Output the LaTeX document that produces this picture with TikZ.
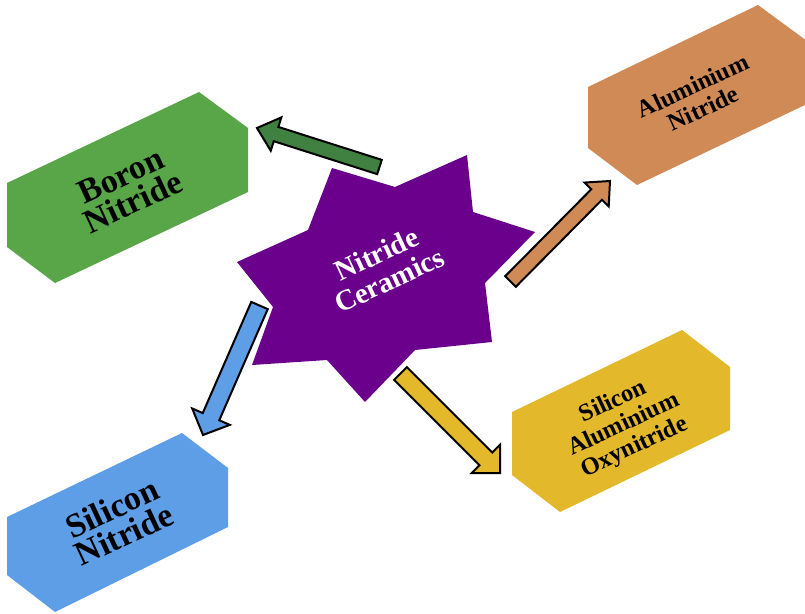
\documentclass[tikz,border=0pt]{standalone}
\usepackage{fontspec}
\setmainfont{Liberation Serif}
\usetikzlibrary{calc}
\definecolor{bngreen}{RGB}{88,166,72}
\definecolor{bnarrow}{RGB}{64,128,64}
\definecolor{alorange}{RGB}{208,138,86}
\definecolor{siyellow}{RGB}{227,184,42}
\definecolor{siblue}{RGB}{94,158,230}
\definecolor{starpurple}{RGB}{106,0,140}
% tail, tip, colour, shaft half width, head half width, head length
\newcommand{\blkarrow}[6]{%
  \coordinate (bB) at ($(#2)!#6pt!(#1)$);
  \filldraw[blockarrow, fill=#3]
    ($(#1)!#4pt!90:(#2)$) -- ($(bB)!#4pt!-90:(#1)$) -- ($(bB)!#5pt!-90:(#1)$) -- (#2)
    -- ($(bB)!#5pt!90:(#1)$) -- ($(bB)!#4pt!90:(#1)$) -- ($(#1)!#4pt!-90:(#2)$) -- cycle;}
\begin{document}
\begin{tikzpicture}[x=1pt,y=-1pt,
  blockarrow/.style={draw=black, line width=2pt, line join=miter},
  lbl/.style={align=center, inner sep=0pt, rotate=25, text=black},
  big/.style={font=\fontsize{34}{29}\selectfont\bfseries},
  small/.style={font=\fontsize{24.5}{25}\selectfont\bfseries}]
\useasboundingbox (0,0) rectangle (805,613);
\clip (0,0) rectangle (805,613);
% boxes
\fill[bngreen] (7,183) -- (199,92) -- (248,128) -- (248,192) -- (55,283) -- (7,247) -- cycle;
\fill[alorange] (588,87) -- (758,5) -- (807,41) -- (807,104) -- (637,185) -- (588,148) -- cycle;
\fill[siyellow] (512,412) -- (682,330) -- (730,367) -- (730,430) -- (560,512) -- (512,475) -- cycle;
\fill[siblue] (7,517) -- (182,433) -- (228,468) -- (228,527) -- (55,612) -- (7,575) -- cycle;
% star
\fill[starpurple] (332,168) -- (395,187) -- (467,155) -- (473,212) -- (535,232) -- (485,283)
  -- (492,342) -- (415,350) -- (365,402) -- (327,360) -- (252,365) -- (273,307)
  -- (237,262) -- (308,230) -- cycle;
% labels
\node[lbl, big] (bn) at (127,189) {Boron\\Nitride};
\node[lbl, big] (sn) at (118,521) {Silicon\\Nitride};
\node[lbl, small] (an) at (698,97) {Aluminium\\Nitride};
\node[lbl, small] (sao) at (624,425) {Silicon\\Aluminium\\Oxynitride};
\node[lbl, text=white, font=\fontsize{29}{29}\selectfont\bfseries] (nc) at (383,267) {Nitride\\Ceramics};
% arrows
\coordinate (gT) at (379.5,167);  \coordinate (gH) at (257,128);
\coordinate (oT) at (510.5,281.5); \coordinate (oH) at (610,181);
\coordinate (bT) at (259.5,305.5); \coordinate (bH) at (203,435);
\coordinate (yT) at (400.5,373.5); \coordinate (yH) at (500,473);
\blkarrow{gT}{gH}{bnarrow}{7.5}{17.5}{20}
\blkarrow{oT}{oH}{alorange}{7.5}{17}{19}
\blkarrow{bT}{bH}{siblue}{9}{20.5}{20}
\blkarrow{yT}{yH}{siyellow}{9}{20}{20}
\end{tikzpicture}
\end{document}
